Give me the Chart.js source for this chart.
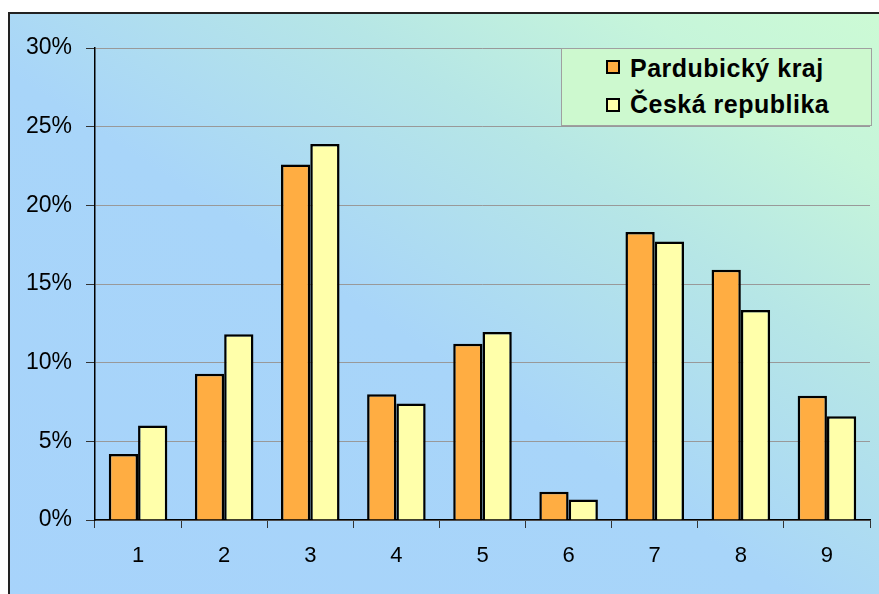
<!DOCTYPE html>
<html>
<head>
<meta charset="utf-8">
<script src="https://cdn.jsdelivr.net/npm/chart.js@4/dist/chart.umd.min.js"></script>
<style>
  html, body { margin: 0; padding: 0; background: #fff; overflow: hidden; }
  #wrap { position: relative; width: 879px; height: 594px; }
  #bg {
    position: absolute; left: 8px; top: 12px; width: 900px; height: 600px;
    border-left: 2px solid #222; border-top: 2px solid #222;
    background: linear-gradient(to top right, #a7d3fb 0%, #a8d5f9 45%, #b6e6e6 68%, #c6f5da 85%, #cdfbd4 100%);
  }
  #myChart { position: absolute; left: 0; top: 0; }
  #legend {
    position: absolute; left: 561px; top: 48px; width: 309px; height: 76px;
    background: #cdf9cf; border: 1px solid #a0a0a0;
    font-family: "Liberation Sans", Arial, sans-serif; font-weight: bold; font-size: 25px;
    letter-spacing: 0.5px; color: #000;
  }
  .item { position: absolute; left: 68px; height: 30px; line-height: 30px; white-space: nowrap; }
  .sw { position: absolute; left: 44px; width: 14px; height: 14px; box-sizing: border-box; border: 2px solid #000; }
</style>
</head>
<body>
<div id="wrap">
  <div id="bg"></div>
  <canvas id="myChart" width="879" height="594"></canvas>
  <div id="legend">
    <span class="sw" style="top:11px; background:#ffad42"></span>
    <div class="item" style="top:4px">Pardubický kraj</div>
    <span class="sw" style="top:49px; background:#ffffaa"></span>
    <div class="item" style="top:40px">Česká republika</div>
  </div>
</div>
<script>
var labels = ["1", "2", "3", "4", "5", "6", "7", "8", "9"];
var pardubicky = [4.2, 9.3, 22.6, 8.0, 11.2, 1.8, 18.3, 15.9, 7.9];
var ceska = [6.0, 11.8, 23.9, 7.4, 11.95, 1.3, 17.7, 13.35, 6.6];
var yTicks = [0, 5, 10, 15, 20, 25, 30];

var ctx = document.getElementById('myChart').getContext('2d');
var myChart = new Chart(ctx, {
    type: 'bar',
    data: {
        labels: labels,
        datasets: [{
            label: 'Pardubický kraj',
            data: pardubicky,
            backgroundColor: "#ffad42",
            borderColor: "#000",
            borderWidth: 2.5,
            categoryPercentage: 0.68,
            barPercentage: 1.0
        }, {
            label: 'Česká republika',
            data: ceska,
            backgroundColor: "#ffffaa",
            borderColor: "#000",
            borderWidth: 2.5,
            categoryPercentage: 0.68,
            barPercentage: 1.0
        }]
    },
    options: {
        responsive: false,
        animation: false,
        layout: { padding: { left: 0, top: 48, right: 9, bottom: 0 } },
        plugins: { legend: { display: false }, tooltip: { enabled: false } },
        scales: {
            x: {
                grid: { drawOnChartArea: false, color: "#333", tickLength: 8, offset: true },
                border: { color: "#000", width: 1.5 },
                ticks: { color: "#000", padding: 15, font: { family: "Arial", size: 22 } },
                afterFit: function (s) { s.height = 74; }
            },
            y: {
                min: 0, max: 30,
                afterBuildTicks: function (s) { s.ticks = yTicks.map(function (v) { return { value: v }; }); },
                grid: { color: "#999", lineWidth: 1, tickColor: "#333", tickLength: 9 },
                border: { color: "#000", width: 1.5 },
                ticks: {
                    color: "#000", padding: 14,
                    font: { family: "Arial", size: 23 },
                    callback: function (v) { return v + "%"; }
                },
                afterFit: function (s) { s.width = 95; }
            }
        }
    }
});
</script>
</body>
</html>
